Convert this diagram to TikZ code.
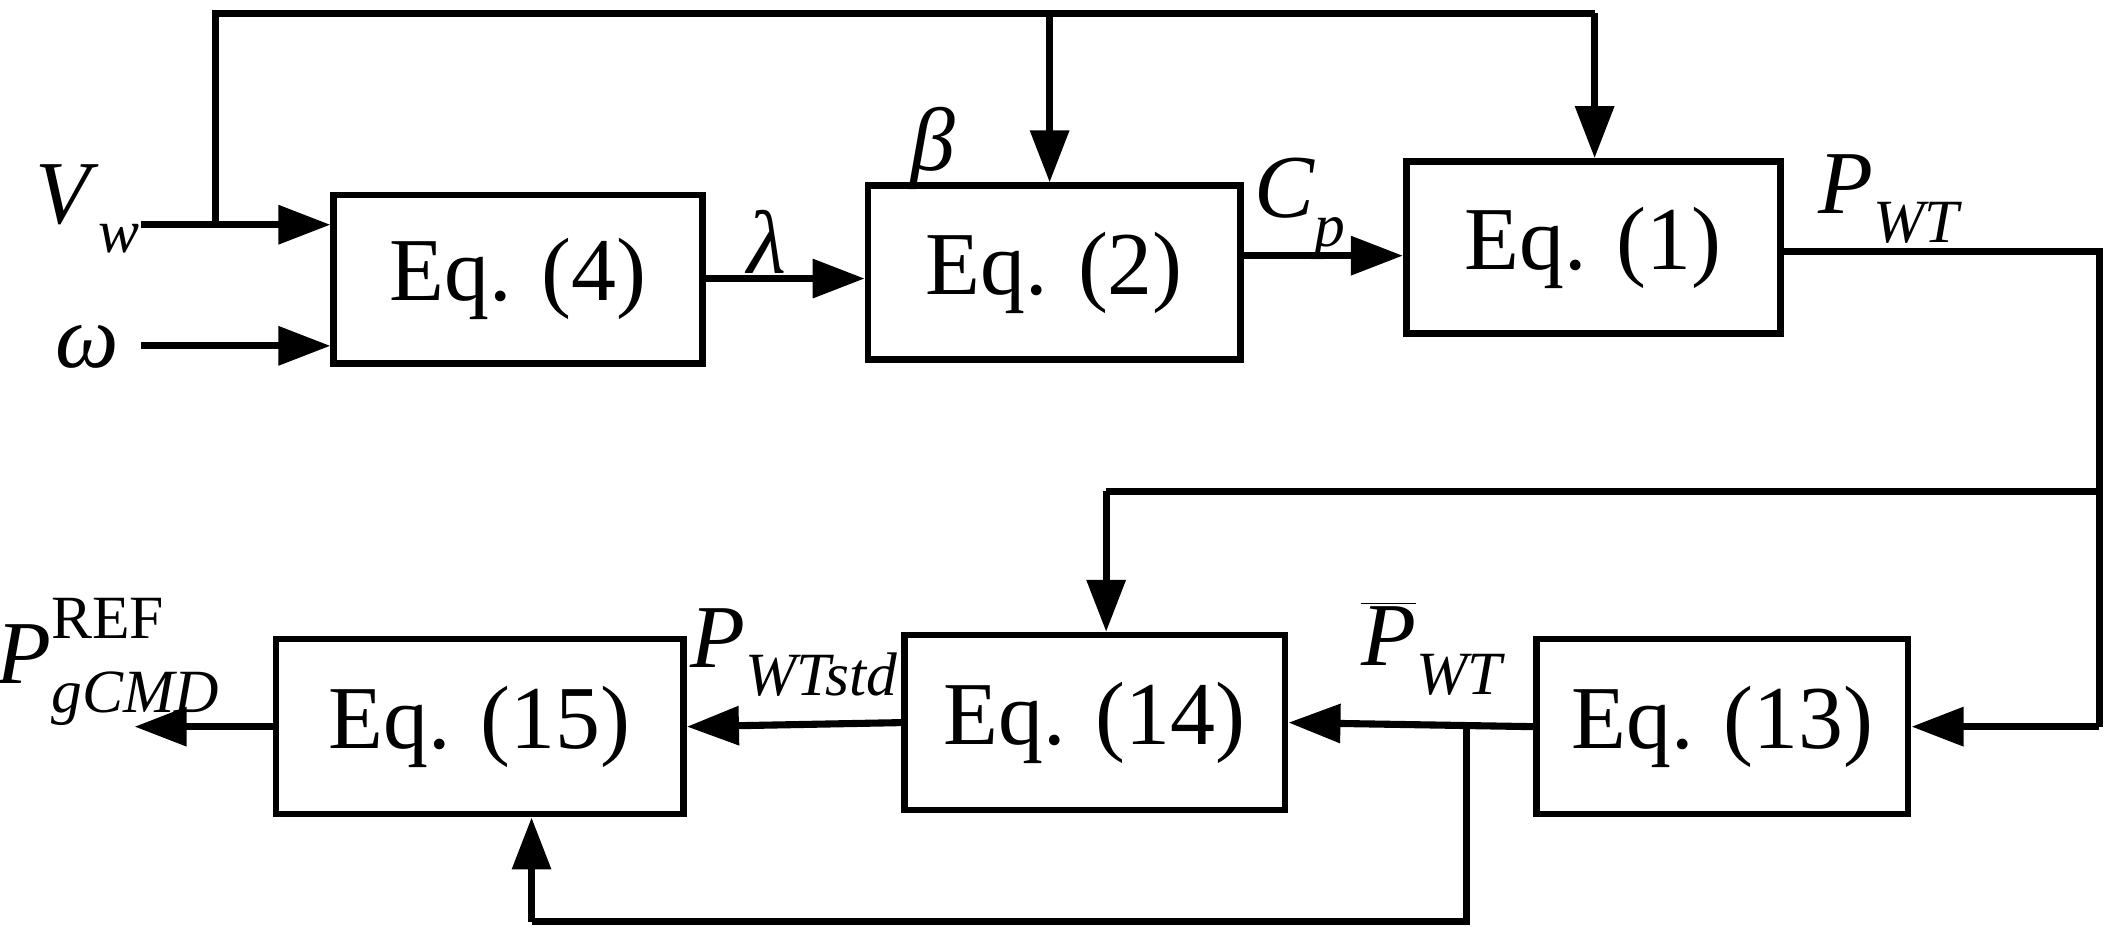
\documentclass[tikz,border=0pt]{standalone}
\usepackage{fontspec}
\setmainfont{Liberation Serif}
\usetikzlibrary{arrows.meta}
\newcommand{\ti}[1]{\textit{#1}}
\newcommand{\sbx}[1]{\raisebox{-0.32em}{\fontsize{26}{26}\selectfont\textit{#1}}}
\newcommand{\spx}[1]{\raisebox{0.5em}{\fontsize{26}{26}\selectfont #1}}
\begin{document}
\begin{tikzpicture}[x=0.02cm,y=-0.02cm,
  box/.style={draw,line width=2.8pt,inner sep=0pt,font=\fontsize{38}{40}\selectfont},
  ln/.style={line width=3pt},
  ar/.style={ln,-{Triangle[length=22pt,width=16pt]}},
  lab/.style={font=\fontsize{38}{40}\selectfont,inner sep=0pt}]
\useasboundingbox (0,0) rectangle (1568,695);
\node[box,minimum width=274*0.02cm,minimum height=125*0.02cm] (e4) at (385,207.5) {Eq. (4)};
\node[box,minimum width=277*0.02cm,minimum height=129*0.02cm] (e2) at (783.5,202.5) {Eq. (2)};
\node[box,minimum width=278*0.02cm,minimum height=128*0.02cm] (e1) at (1184,184) {Eq. (1)};
\node[box,minimum width=276*0.02cm,minimum height=130*0.02cm] (e13) at (1280,540) {Eq. (13)};
\node[box,minimum width=283*0.02cm,minimum height=130*0.02cm] (e14) at (813.5,537) {Eq. (14)};
\node[box,minimum width=303*0.02cm,minimum height=130*0.02cm] (e15) at (356.5,540) {Eq. (15)};
\coordinate (vw) at (105,167);
\coordinate (om) at (105,257);
\coordinate (out) at (100,540);
\draw[ar] (vw) -- (e4.west|-vw);
\draw[ar] (om) -- (e4.west|-om);
\draw[ln] (160,167) -- (160,10) -- (1185,10);
\draw[ar] (780,10) -- (e2.north-|780,0);
\draw[ar] (1185,10) -- (e1.north-|1185,0);
\draw[ar] (e4.east|-0,207) -- (e2.west|-0,207);
\draw[ar] (e2.east|-0,190) -- (e1.west|-0,190);
\draw[ln] (e1.east|-0,187) -- (1560,187) -- (1560,540);
\draw[ar] (1560,540) -- (e13.east);
\draw[ln] (1560,365) -- (822,365);
\draw[ar] (822,365) -- (e14.north-|822,0);
\draw[ar] (e13.west) -- (e14.east);
\draw[ln] (1090,540) -- (1090,685) -- (395,685);
\draw[ar] (395,685) -- (e15.south-|395,0);
\draw[ar] (e14.west) -- (e15.west-|e15.east);
\draw[ar] (e15.west) -- (out);
\node[lab] at (65,155) {\ti{V}\sbx{w}};
\node[lab] at (65,258) {\ti{ω}};
\node[lab] at (570,180) {\ti{λ}};
\node[lab] at (693,110) {\ti{β}};
\node[lab] at (966,155) {\ti{C}\sbx{p}};
\node[lab] at (1405,148) {\ti{P}\sbx{WT}};
\node[lab] at (1065,482) {$\overline{\hbox{\ti{P}}}$\sbx{WT}};
\node[lab] at (590,485) {\ti{P}\sbx{WTstd}};
\node[lab] at (80,492) {\ti{P}\rlap{\spx{REF}}\sbx{gCMD}};
\end{tikzpicture}
\end{document}
